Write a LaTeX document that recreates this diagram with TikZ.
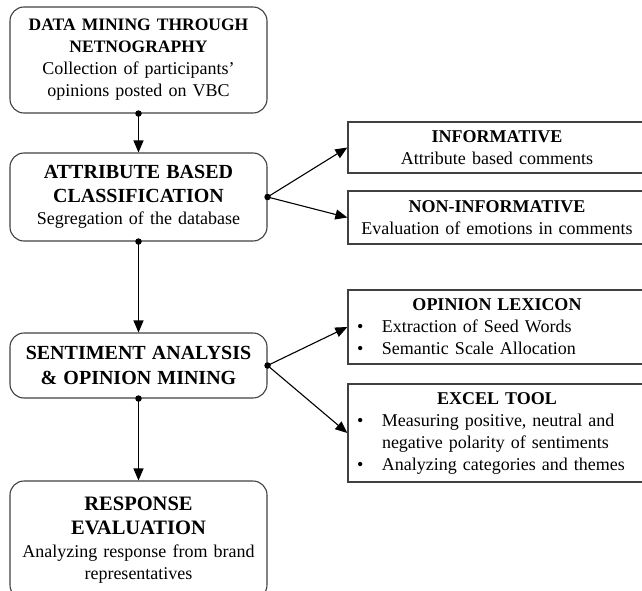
\documentclass[tikz,border=0pt]{standalone}
\usepackage{fontspec}
\setmainfont{Liberation Serif}
\usetikzlibrary{arrows.meta}
\newcommand{\txtfont}{\fontsize{18}{22}\selectfont\spaceskip=0.34em plus 0.1em minus 0.05em\relax}
\newcommand{\ttl}[2]{{\fontsize{#1}{22}\selectfont\bfseries #2}}
\tikzset{
  x=1pt,y=-1pt,
  txt/.style={font=\txtfont},
  lbox/.style={txt,draw=black!75,line width=1.1pt,rounded corners=14pt,minimum width=257pt,align=center,inner sep=0pt},
  rbox/.style={txt,draw=black!75,line width=1.3pt,minimum width=298pt,inner sep=0pt},
  conn/.style={line width=1.1pt,-{Triangle[length=12pt,width=10pt]}},
  dot/.style={circle,fill=black,inner sep=0pt,minimum size=6.5pt},
}
\newcommand{\bul}{\makebox[25pt][l]{\textbullet}}
\newcommand{\rtitle}[1]{\makebox[280pt][c]{\textbf{#1}}}
\begin{document}
\begin{tikzpicture}
\useasboundingbox (0,0) rectangle (642,591);
\clip (0,0) rectangle (642,591);
\node[lbox,minimum height=106pt] (b1) at (138.5,60) {\ttl{17.5}{DATA MINING THROUGH}\\\ttl{17.5}{NETNOGRAPHY}\\Collection of participants'\\opinions posted on VBC};
\node[lbox,minimum height=88pt] (b2) at (138.5,197) {\ttl{20}{ATTRIBUTE BASED}\\[2pt]\ttl{20}{CLASSIFICATION}\\Segregation of the database};
\node[lbox,minimum height=65pt] (b3) at (138.5,365.5) {\ttl{20}{SENTIMENT ANALYSIS}\\[3pt]\ttl{20}{\& OPINION MINING}};
\node[lbox,minimum height=118pt] (b4) at (138.5,540) {\ttl{20.5}{RESPONSE}\\[2pt]\ttl{20.5}{EVALUATION}\\[1pt]Analyzing response from brand\\representatives};

\node[rbox,minimum height=51pt,align=center] (r1) at (497,147.5) {\textbf{INFORMATIVE}\\Attribute based comments};
\node[rbox,minimum height=53pt,align=center] (r2) at (497,217.5) {\textbf{NON-INFORMATIVE}\\Evaluation of emotions in comments};
\node[rbox,minimum height=74pt,text width=280pt,align=left] (r3) at (497,327) {\rtitle{OPINION LEXICON}\\\bul Extraction of Seed Words\\\bul Semantic Scale Allocation};
\node[rbox,minimum height=98pt,text width=280pt,align=left] (r4) at (497,433) {\rtitle{EXCEL TOOL}\\\bul Measuring positive, neutral and\\\hspace*{25pt}negative polarity of sentiments\\\bul Analyzing categories and themes};

\node[dot] (d1) at (b1.south) {};
\node[dot] (d2) at (b2.south) {};
\node[dot] (d3) at (b3.south) {};
\node[dot] (d2e) at (b2.east) {};
\node[dot] (d3e) at (b3.east) {};

\draw[conn] (d1.center) -- (b2.north);
\draw[conn] (d2.center) -- (b3.north);
\draw[conn] (d3.center) -- (b4.north);
\draw[conn] (d2e.center) -- (r1.west);
\draw[conn] (d2e.center) -- (r2.west);
\draw[conn] (d3e.center) -- (r3.west);
\draw[conn] (d3e.center) -- (r4.west);
\end{tikzpicture}
\end{document}
